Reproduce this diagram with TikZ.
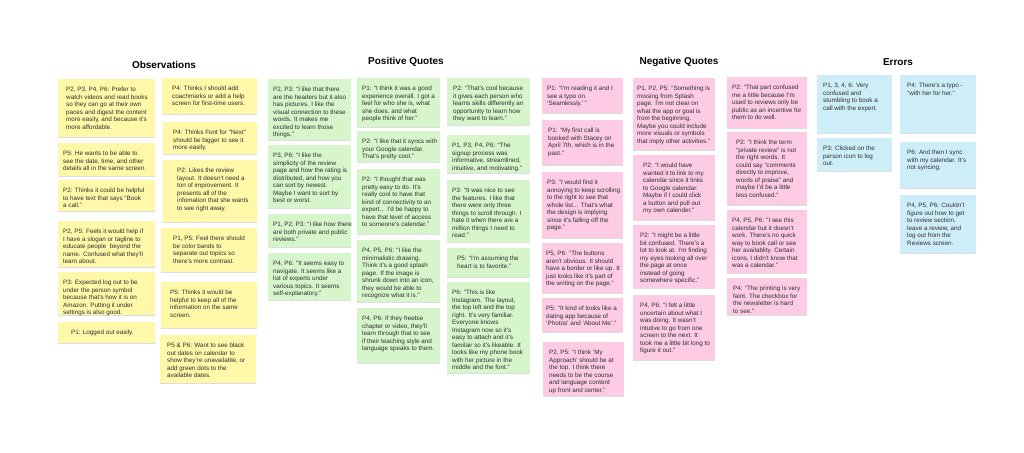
\documentclass[tikz,border=0pt]{standalone}
\usepackage{fontspec}
\setmainfont{Liberation Sans}
\usetikzlibrary{shadows}
\definecolor{yel}{HTML}{FFF8A8}
\definecolor{grn}{HTML}{D6F5CA}
\definecolor{pnk}{HTML}{FDCBE4}
\definecolor{blu}{HTML}{CDEEF8}
\definecolor{txt}{HTML}{2E2E2E}
\tikzset{
  notebox/.style={rectangle, draw=none, inner sep=0pt, anchor=north west,
    drop shadow={shadow xshift=0pt, shadow yshift=-1pt, opacity=0.22, fill=black!60}},
  notetext/.style={inner sep=0pt, align=left, anchor=north west, text=txt,
    font=\fontsize{6.3}{7.5}\selectfont},
  heading/.style={inner sep=0pt, font=\bfseries\fontsize{10}{12}\selectfont, text=black}
}
\newcommand\stickynote[8]{%
  \node[notebox, fill=#6, minimum width=#4pt, minimum height=#5pt] (#1) at (#2,#3) {};
  \node[notetext] (#1t) at ([shift={(#7pt,-8pt)}]#1.north west) {#8};}
\begin{document}
\begin{tikzpicture}[x=1pt,y=-1pt]
\useasboundingbox[fill=white] (0,0) rectangle (1024,452);
% headings
\node[heading] (hobs) at (164,65) {Observations};
\node[heading] (hpos) at (406,62) {Positive Quotes};
\node[heading] (hneg) at (679,62) {Negative Quotes};
\node[heading] (herr) at (898,62) {Errors};
% Observations column 1
\stickynote{o1}{58}{79}{97}{58}{yel}{8}{P2, P3, P4, P6: Prefer to\\watch videos and read books\\so they can go at their own\\paces and digest the content\\more easily, and because it's\\more affordable.}
\stickynote{o2}{58}{143}{97}{33}{yel}{5}{P5: He wants to be able to\\see the date, time, and other\\details all in the same screen.}
\stickynote{o3}{58}{180}{97}{31}{yel}{5}{P2: Thinks it could be helpful\\to have text that says ``Book\\a call.''}
\stickynote{o4}{58}{221}{97}{46}{yel}{5}{P2, P5: Feels it would help if\\I have a slogan or tagline to\\educate people\ \ beyond the\\name. Confused what they'll\\learn about.}
\stickynote{o5}{58}{272}{97}{43}{yel}{5}{P3: Expected log out to be\\under the person symbol\\because that's how it is on\\Amazon. Putting it under\\settings is also good.}
\stickynote{o6}{58}{322}{97}{21}{yel}{13}{P1: Logged out easily.}
% Observations column 2
\stickynote{o7}{162}{78}{95}{36}{yel}{10}{P4: Thinks I should add\\coachmarks or add a help\\screen for first-time users.}
\stickynote{o8}{163}{122}{94}{32}{yel}{10}{P4: Thinks Font for ``Next''\\should be bigger to see it\\more easily.}
\stickynote{o9}{163}{160}{94}{62}{yel}{14}{P2: Likes the review\\layout. It doesn't need a\\ton of improvement. It\\presents all of the\\infomation that she wants\\to see right away.}
\stickynote{o10}{161}{228}{96}{44}{yel}{12}{P1, P5: Feel there should\\be color bands to\\separate out topics so\\there's more contrast.}
\stickynote{o11}{161}{282}{96}{46}{yel}{9}{P5: Thinks it would be\\helpful to keep all of the\\information on the same\\screen.}
\stickynote{o12}{160}{335}{96}{48}{yel}{7}{P5 \& P6: Want to see black\\out dates on calendar to\\show they're unavailable, or\\add green dots to the\\available dates.}
% Positive column 1
\stickynote{p1}{268}{79}{83}{61}{grn}{5}{P2, P3: ``I like that there\\are the headers but it also\\has pictures. I like the\\visual connection to these\\words. It makes me\\excited to learn those\\things.''}
\stickynote{p2}{268}{145}{83}{63}{grn}{5}{P3, P6: ``I like the\\simplicity of the review\\page and how the rating is\\distributed, and how you\\can sort by newest.\\Maybe I want to sort by\\best or worst.}
\stickynote{p3}{268}{214}{83}{33}{grn}{5}{P1, P2, P3: ``I like how there\\are both private and public\\reviews.''}
\stickynote{p4}{268}{253}{83}{47}{grn}{5}{P4, P6: ``It seems easy to\\navigate. It seems like a\\list of experts under\\various topics. It seems\\self-explanatory.''}
% Positive column 2
\stickynote{p5}{357}{78}{83}{49}{grn}{5}{P1: ``I think it was a good\\experience overall. I got a\\feel for who she is, what\\she does, and what\\people think of her.''}
\stickynote{p6}{357}{131}{83}{31}{grn}{5}{P2: ``I like that it syncs with\\your Google calendar.\\That's pretty cool.''}
\stickynote{p7}{357}{169}{83}{65}{grn}{5}{P2: ``I thought that was\\pretty easy to do. It's\\really cool to have that\\kind of connectivity to an\\expert... I'd be happy to\\have that level of access\\to someone's calendar.''}
\stickynote{p8}{357}{240}{83}{62}{grn}{5}{P4, P5, P6: ``I like the\\minimalistic drawing.\\Think it's a good splash\\page. If the image is\\shrunk down into an icon,\\they would be able to\\recognize what it is.''}
\stickynote{p9}{357}{308}{83}{55}{grn}{5}{P4, P6: If they freebie\\chapter or video, they'll\\learn through that to see\\if their teaching style and\\language speaks to them.}
% Positive column 3
\stickynote{p10}{447}{78}{83}{47}{grn}{6}{P2: ``That's cool because\\it gives each person who\\learns skills differently an\\opportunity to learn how\\they want to learn.''}
\stickynote{p11}{447}{135}{83}{38}{grn}{5}{P1, P3, P4, P6: ``The\\signup process was\\informative, streamlined,\\intuitive, and motivating.''}
\stickynote{p12}{447}{180}{83}{62}{grn}{5}{P3: ``It was nice to see\\the features. I like that\\there were only three\\things to scroll through. I\\hate it when there are a\\million things I need to\\read.''}
\stickynote{p13}{447}{248}{83}{29}{grn}{10}{P5: ``I'm assuming the\\heart is to favorite.''}
\stickynote{p14}{447}{282}{83}{91}{grn}{5}{P6: ``This is like\\Instagram. The layout,\\the top left and the top\\right. It's very familiar.\\Everyone knows\\Instagram now so it's\\easy to attach and it's\\familair so it's likeable. It\\looks like my phone book\\with her picture in the\\middle and the font.''}
% Negative column 1
\stickynote{n1}{542}{78}{81}{35}{pnk}{5}{P1: ``I'm reading it and I\\see a typo on\\`Seamlessly.'\,''}
\stickynote{n2}{542}{120}{81}{45}{pnk}{6}{P1: ``My first call is\\booked with Stacey on\\April 7th, which is in the\\past.''}
\stickynote{n3}{542}{172}{81}{66}{pnk}{5}{P3: ``I would find it\\annoying to keep scrolling\\to the right to see that\\whole list... That's what\\the design is implying\\since it's falling off the\\page.''}
\stickynote{n4}{542}{243}{81}{50}{pnk}{4}{P5, P6: ``The buttons\\aren't obvious. It should\\have a border or like up. It\\just looks like it's part of\\the writing on the page.''}
\stickynote{n5}{542}{298}{81}{34}{pnk}{4}{P5: ``It kind of looks like a\\dating app because of\\`Photos' and `About Me'.''}
\stickynote{n6}{543}{342}{81}{54}{pnk}{6}{P2, P5: ``I think `My\\Approach' should be at\\the top. I think there\\needs to be the course\\and language content\\up front and center.''}
% Negative column 2
\stickynote{n7}{633}{78}{82}{72}{pnk}{4}{P1, P2, P5: ``Something is\\missing from Splash\\page. I'm not clear on\\what the app or goal is\\from the beginning.\\Maybe you could include\\more visuals or symbols\\that imply other activities.''}
\stickynote{n8}{633}{155}{82}{65}{pnk}{10}{P2: ``I would have\\wanted it to link to my\\calendar since it links\\to Google calendar.\\Maybe if I could click\\a button and pull out\\my own calender.''}
\stickynote{n9}{633}{225}{82}{63}{pnk}{7}{P2: ``I might be a little\\bit confused. There's a\\lot to look at. I'm finding\\my eyes looking all over\\the page at once\\instead of going\\somewhere specific.''}
\stickynote{n10}{633}{295}{82}{65}{pnk}{7}{P4, P6: ``I felt a little\\uncertain about what I\\was doing. It wasn't\\intutive to go from one\\screen to the next. It\\took me a little bit long to\\figure it out.''}
% Negative column 3
\stickynote{n11}{727}{77}{80}{51}{pnk}{5}{P2: ``That part confused\\me a little because I'm\\used to reviews only be\\public as an incentive for\\them to do well.}
\stickynote{n12}{727}{132}{80}{73}{pnk}{9}{P2: ``I think the term\\``private review'' is not\\the right words. It\\could say ``comments\\directly to improve,\\words of praise'' and\\maybe I'd be a little\\less confused.''}
\stickynote{n13}{727}{210}{80}{63}{pnk}{5}{P4, P5, P6: ``I see this\\calendar but it doesn't\\work. There's no quick\\way to book call or see\\her availablity. Certain\\icons, I didn't know that\\was a calendar.''}
\stickynote{n14}{727}{278}{80}{37}{pnk}{6}{P4: ``The printing is very\\faint. The checkbox for\\the newsletter is hard\\to see.''}
% Errors
\stickynote{e1}{817}{75}{75}{58}{blu}{6}{P1, 3, 4, 6: Very\\confused and\\stumbling to book a\\call with the expert.}
\stickynote{e2}{817}{138}{75}{33}{blu}{6}{P3: Clicked on the\\person icon to log\\out.}
\stickynote{e3}{900}{75}{76}{58}{blu}{7}{P4: There's a typo -\\``with her for her.''}
\stickynote{e4}{900}{142}{76}{46}{blu}{7}{P6: And then I sync\\with my calendar. It's\\not syncing.}
\stickynote{e5}{900}{195}{76}{58}{blu}{7}{P4, P5, P6: Couldn't\\figure out how to get\\to review section,\\leave a review, and\\log out from the\\Reviews screen.}
\end{tikzpicture}
\end{document}
